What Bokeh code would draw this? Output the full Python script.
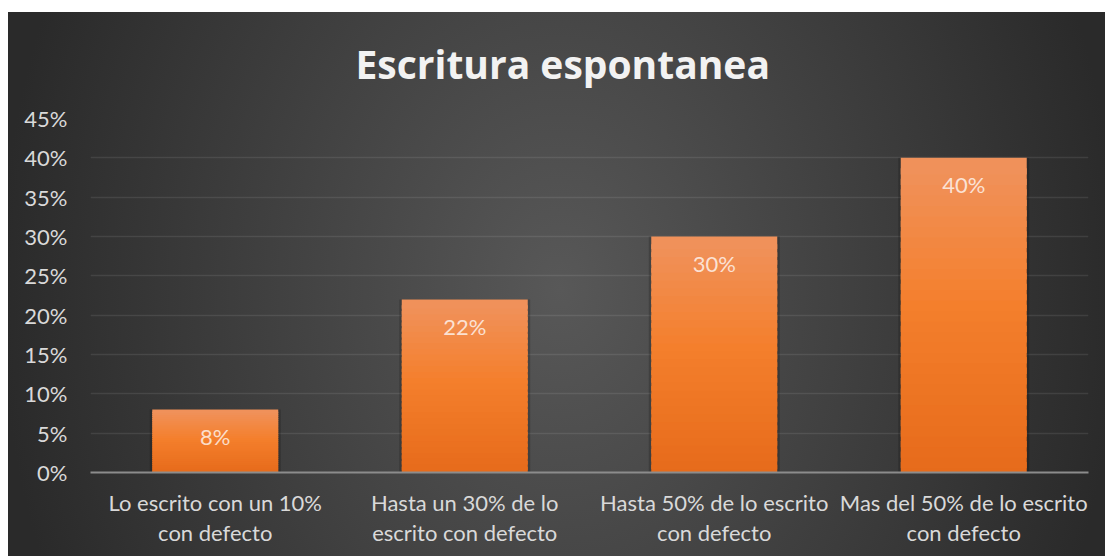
from bokeh.plotting import figure
from bokeh.models import FactorRange, Range1d, NumeralTickFormatter, FixedTicker
from bokeh.core.properties import value
from bokeh.embed import file_html
from bokeh.resources import INLINE

title_text = "Escritura espontanea"
categories = [
    "Lo escrito con un 10%\ncon defecto",
    "Hasta un 30% de lo\nescrito con defecto",
    "Hasta 50% de lo escrito\ncon defecto",
    "Mas del 50% de lo escrito\ncon defecto",
]
values = [0.08, 0.22, 0.30, 0.40]
y_ticks = [0.0, 0.05, 0.10, 0.15, 0.20, 0.25, 0.30, 0.35, 0.40, 0.45]

FONT = "Lato"

p = figure(
    width=1105, height=556,
    x_range=FactorRange(*categories, range_padding=0),
    y_range=Range1d(0, 0.45),
    output_backend="svg", toolbar_location=None,
    min_border_left=90, min_border_right=17, min_border_top=118, min_border_bottom=84,
)
p.background_fill_alpha = 0
p.border_fill_alpha = 0
p.outline_line_color = None
p.stylesheets = [
    ":host { background:"
    " linear-gradient(#ffffff, #ffffff) left top / 8px 100% no-repeat,"
    " linear-gradient(#ffffff, #ffffff) left top / 100% 12px no-repeat,"
    " radial-gradient(ellipse 560px 720px at 560px 290px, #585858 0%, #2a2a2a 100%); }"
]

# title
p.title.text = title_text
p.title.text_font = "Open Sans"
p.title.text_font_style = "bold"
p.title.text_font_size = "39px"
p.title.text_color = "#f2f2f2"
p.title.align = "left"
p.title.offset = 265
p.title.standoff = 58

# grid
p.xgrid.grid_line_color = None
p.ygrid.grid_line_color = "#ffffff"
p.ygrid.grid_line_alpha = 0.09
p.ygrid.grid_line_width = 1.6

# bars: soft shadow + gradient segments
p.vbar(x=categories, top=values, width=0.525, bottom=0, fill_color="#000000",
       fill_alpha=0.18, line_color=None)

N = 30
top_c = (240, 146, 92)
mid_c = (244, 127, 44)
bot_c = (230, 106, 26)

def mix(a, b, t):
    return "#%02x%02x%02x" % tuple(int(round(a[k] + (b[k] - a[k]) * t)) for k in range(3))

seg_x, seg_b, seg_t, seg_c = [], [], [], []
for cat, v in zip(categories, values):
    for i in range(N):
        f = (i + 0.5) / N  # fraction from bottom
        if f > 0.55:
            col = mix(mid_c, top_c, (f - 0.55) / 0.45)
        else:
            col = mix(bot_c, mid_c, f / 0.55)
        seg_x.append(cat)
        seg_b.append(v * max(i - 0.6, 0) / N)
        seg_t.append(v * (i + 1) / N)
        seg_c.append(col)
p.vbar(x=seg_x, bottom=seg_b, top=seg_t, width=0.505, fill_color=seg_c,
       line_color=None)

# data labels
p.text(x=categories, y=values, text=[f"{round(v*100)}%" for v in values],
       text_font=value(FONT), text_font_size="22px", text_color="#ffffff", text_alpha=0.75,
       text_align="center", text_baseline="middle", y_offset=27)

# axes
p.yaxis.ticker = FixedTicker(ticks=y_ticks)
p.yaxis.formatter = NumeralTickFormatter(format="0%")
p.yaxis.axis_line_color = None
p.yaxis.major_tick_line_color = None
p.yaxis.minor_tick_line_color = None
p.yaxis.major_tick_out = 0
p.yaxis.major_label_standoff = 23
p.yaxis.major_label_text_font = FONT
p.yaxis.major_label_text_font_size = "22px"
p.yaxis.major_label_text_color = "#d9d9d9"

p.xaxis.axis_line_color = "#8c8c8c"
p.xaxis.axis_line_width = 2
p.xaxis.major_tick_line_color = None
p.xaxis.major_tick_out = 0
p.xaxis.major_label_standoff = 16
p.xaxis.major_label_text_font = FONT
p.xaxis.major_label_text_font_size = "22px"
p.xaxis.major_label_text_color = "#d9d9d9"
p.xaxis.major_label_text_line_height = 1.14

open("out.html", "w").write(file_html(p, INLINE))
